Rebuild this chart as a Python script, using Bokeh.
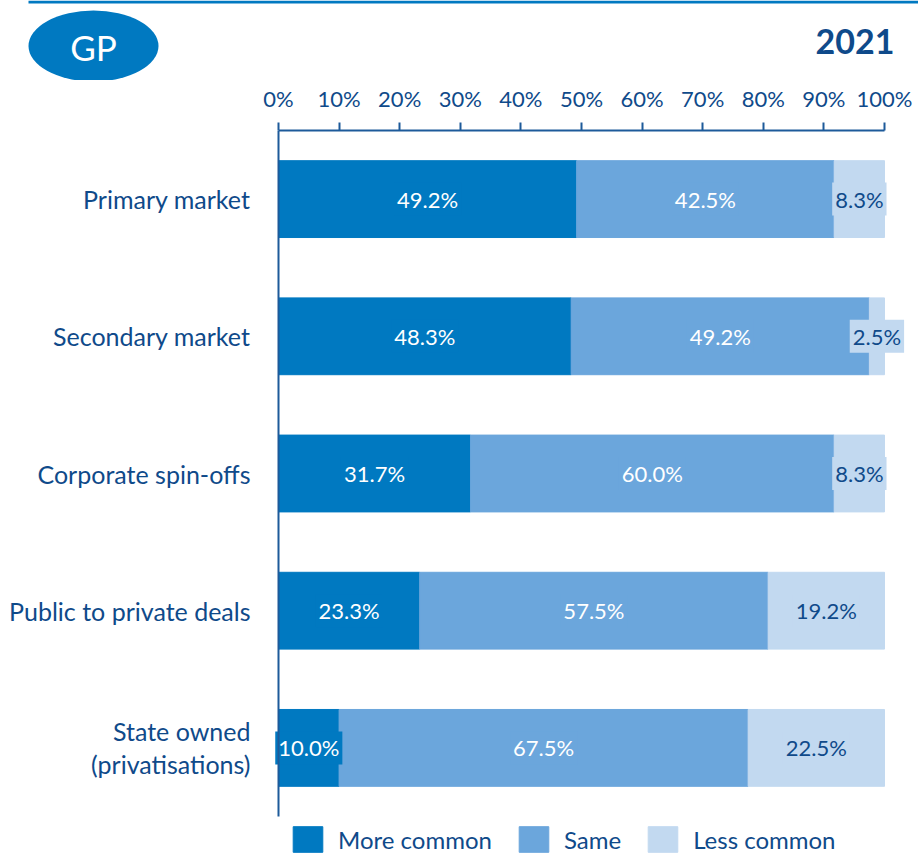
import numpy as np
from bokeh.plotting import figure
from bokeh.models import ColumnDataSource, Range1d, FixedTicker
from bokeh.layouts import column
from bokeh.embed import file_html
from bokeh.resources import INLINE
from bokeh.core.properties import value

# ---------------- data ----------------
categories = [
    "Primary market",
    "Secondary market",
    "Corporate spin-offs",
    "Public to private deals",
    "State owned\n(privatisations)",
]
more_common = [49.2, 48.3, 31.7, 23.3, 10.0]
same = [42.5, 49.2, 60.0, 57.5, 67.5]
less_common = [8.3, 2.5, 8.3, 19.2, 22.5]
series_names = ["More common", "Same", "Less common"]
tick_values = [0, 10, 20, 30, 40, 50, 60, 70, 80, 90, 100]
tick_labels = ["0%", "10%", "20%", "30%", "40%", "50%", "60%", "70%", "80%", "90%", "100%"]
badge_label = "GP"
year_label = "2021"

# ---------------- style / layout ----------------
colors = ["#0079c1", "#6ba6dc", "#c2d9f0"]
value_text_colors = ["#ffffff", "#ffffff", "#0f4a8a"]
NAVY = "#0f4a8a"
AXIS = "#1d5a9a"
FONT = "Lato"
W = 918
HEADER_H = 80
MAIN_H = 774
TOP_BORDER = 50
PLOT_LEFT_PX = 278      # screen x of 0%
PX_PER_UNIT = 6.06      # screen px per 1 %
BAND_PX = 137.2         # screen px per category band

# ---------------- header ----------------
h = figure(width=W, height=HEADER_H, x_range=Range1d(0, W), y_range=Range1d(HEADER_H, 0),
           toolbar_location=None, output_backend="svg", min_border=0,
           x_axis_type=None, y_axis_type=None)
h.outline_line_color = None
h.grid.visible = False
h.quad(left=[28], right=[W], top=[0], bottom=[3], fill_color=colors[0], line_color=None)
h.ellipse(x=[93], y=[45.5], width=130, height=71, fill_color=colors[0], line_color=None)
h.text(x=[93], y=[46], text=[badge_label], text_align="center", text_baseline="middle",
       text_color="#ffffff", text_font=value(FONT), text_font_size="35px")
h.text(x=[894], y=[41], text=[year_label], text_align="right", text_baseline="middle",
       text_color=NAVY, text_font=value(FONT), text_font_size="34px", text_font_style="bold")

# ---------------- main chart ----------------
n = len(categories)
ypos = [n - 1 - i for i in range(n)]          # first category on top
y_top = n - 0.5
y_bottom = y_top - (MAIN_H - TOP_BORDER) / BAND_PX
x_start = -PLOT_LEFT_PX / PX_PER_UNIT
x_end = (W - PLOT_LEFT_PX) / PX_PER_UNIT

p = figure(width=W, height=MAIN_H,
           y_range=Range1d(y_bottom, y_top),
           x_range=Range1d(x_start, x_end),
           x_axis_location="above", y_axis_location=None,
           toolbar_location=None, output_backend="svg",
           min_border_left=0, min_border_right=0,
           min_border_top=TOP_BORDER, min_border_bottom=0)

source = ColumnDataSource(dict(y=ypos, more=more_common, same=same, less=less_common))
p.hbar_stack(["more", "same", "less"], y="y", height=0.56, source=source,
             fill_color=colors, line_color=colors, legend_label=series_names)

# value labels
lx, ly, lt, lc, lb = [], [], [], [], []
for i in range(n):
    left = 0.0
    for vals, bg, tc in zip([more_common, same, less_common], colors, value_text_colors):
        v = vals[i]
        lx.append(left + v / 2.0)
        ly.append(ypos[i])
        lt.append(f"{v:.1f}%")
        lc.append(tc)
        lb.append(bg)
        left += v
lsrc = ColumnDataSource(dict(x=lx, y=ly, t=lt, tc=lc, bg=lb))
p.text(x="x", y="y", text="t", source=lsrc, text_align="center", text_baseline="middle",
       text_color="tc", text_font=value(FONT), text_font_size="22px",
       background_fill_color="bg", padding=3)

# category labels (left of the 0% line)
csrc = ColumnDataSource(dict(x=[0] * n, y=ypos, t=categories))
p.text(x="x", y="y", text="t", source=csrc, x_offset=-28, text_align="right",
       text_baseline="middle", text_color=NAVY, text_font=value(FONT),
       text_font_size="25px", text_line_height=1.1)

# left axis line (spans the category bands)
p.segment(x0=[0], y0=[-0.5], x1=[0], y1=[y_top], line_color=AXIS, line_width=2)

# top axis
xa = p.xaxis[0]
xa.ticker = FixedTicker(ticks=tick_values)
xa.major_label_overrides = {float(v): l for v, l in zip(tick_values, tick_labels)}
xa.bounds = (0, 100)
xa.axis_line_color = AXIS
xa.axis_line_width = 2
xa.major_tick_line_color = AXIS
xa.major_tick_line_width = 2
xa.major_tick_in = 0
xa.major_tick_out = 8
xa.minor_tick_line_color = None
xa.major_label_text_font = FONT
xa.major_label_text_font_size = "22px"
xa.major_label_text_color = NAVY
xa.major_label_standoff = 11

p.xgrid.visible = False
p.ygrid.visible = False
p.outline_line_color = None

leg = p.legend[0]
leg.location = (289, -1)
leg.orientation = "horizontal"
leg.glyph_width = 37
leg.glyph_height = 32
leg.label_height = 32
leg.label_standoff = 12
leg.spacing = 23
leg.padding = 0
leg.margin = 0
leg.border_line_color = None
leg.background_fill_alpha = 0
leg.label_text_font = FONT
leg.label_text_font_size = "24px"
leg.label_text_color = NAVY

layout = column(h, p, spacing=0)
open("out.html", "w").write(file_html(layout, INLINE))
